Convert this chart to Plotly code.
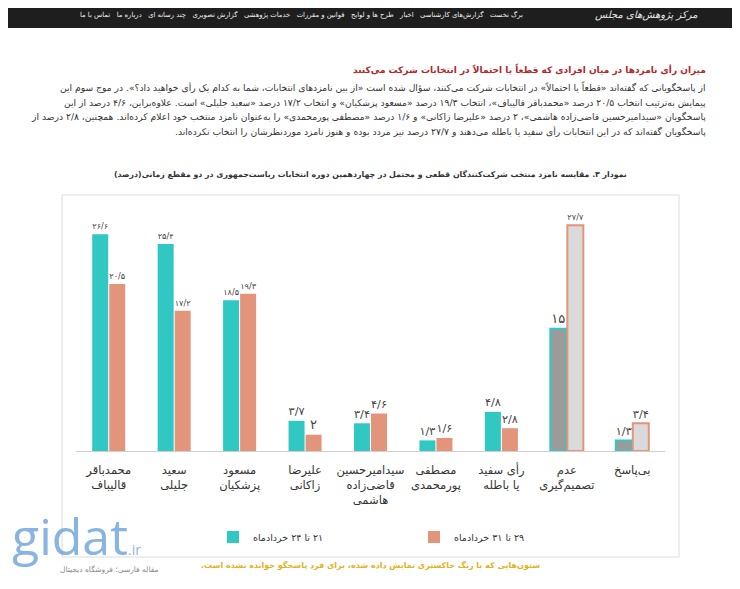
import plotly.graph_objects as go

# the page body adds an 8px margin, so the figure is laid out in shifted coordinates
OX, OY = 8, 8
W, H = 740 - 2 * OX, 589 - 2 * OY

categories = [
    "محمدباقر<br>قالیباف",
    "سعید<br>جلیلی",
    "مسعود<br>پزشکیان",
    "علیرضا<br>زاکانی",
    "سیدامیرحسین<br>قاضی‌زاده<br>هاشمی",
    "مصطفی<br>پورمحمدی",
    "رأی سفید<br>یا باطله",
    "عدم<br>تصمیم‌گیری",
    "بی‌پاسخ",
]
wave_early = [26.6, 25.4, 18.5, 3.7, 3.4, 1.3, 4.8, 15, 1.3]
wave_late = [20.5, 17.2, 19.3, 2, 4.6, 1.6, 2.8, 27.7, 3.4]
series_names = ["۲۱ تا ۲۴ خردادماه", "۲۹ تا ۳۱ خردادماه"]
# last two columns were not read out to respondents -> drawn grey
not_read = [False] * 7 + [True, True]

TEAL = "#31c7c3"
SALMON = "#e3957b"
FONT = "DejaVu Sans"

nav_items = ["برگ نخست", "گزارش‌های کارشناسی", "اخبار", "طرح ها و لوایح", "قوانین و مقررات",
             "خدمات پژوهشی", "گزارش تصویری", "چند رسانه ای", "درباره ما", "تماس با ما"]
heading = "میزان رأی نامزدها در میان افرادی که قطعاً یا احتمالاً در انتخابات شرکت می‌کنند"
paragraph = [
    "از پاسخگویانی که گفته‌اند «قطعاً یا احتمالاً» در انتخابات شرکت می‌کنند، سؤال شده است «از بین نامزدهای انتخابات، شما به کدام یک رأی خواهید داد؟». در موج سوم این",
    "پیمایش به‌ترتیب انتخاب ۲۰/۵ درصد «محمدباقر قالیباف»، انتخاب ۱۹/۳ درصد «مسعود پزشکیان» و انتخاب ۱۷/۲ درصد «سعید جلیلی» است. علاوه‌براین، ۴/۶ درصد از این",
    "پاسخگویان «سیدامیرحسین قاضی‌زاده هاشمی»، ۲ درصد «علیرضا زاکانی» و ۱/۶ درصد «مصطفی پورمحمدی» را به‌عنوان نامزد منتخب خود اعلام کرده‌اند. همچنین، ۲/۸ درصد از",
    "پاسخگویان گفته‌اند که در این انتخابات رأی سفید یا باطله می‌دهند و ۲۷/۷ درصد نیز مردد بوده و هنوز نامزد موردنظرشان را انتخاب نکرده‌اند.",
]
chart_title = "نمودار ۳. مقایسه نامزد منتخب شرکت‌کنندگان قطعی و محتمل در چهاردهمین دوره انتخابات ریاست‌جمهوری در دو مقطع زمانی(درصد)"
footnote = "ستون‌هایی که با رنگ خاکستری نمایش داده شده، برای فرد پاسخگو خوانده نشده است."


def fa(v):
    s = f"{v:g}".replace(".", "/")
    return s.translate(str.maketrans("0123456789", "۰۱۲۳۴۵۶۷۸۹"))


def rtl(s):
    # svg text is ltr by default, embed persian sentences right-to-left
    return "\u202b" + s + "\u202c"


def fx(x):
    return (x - OX) / W


def fy(y):
    return 1 - (y - OY) / H


def note(x, y, text, size, color, anchor="center", family=FONT):
    return dict(xref="paper", yref="paper", x=fx(x), y=fy(y), xanchor=anchor, yanchor="middle",
                text=text, font=dict(family=family, size=size, color=color), showarrow=False)


fig = go.Figure()
for vals, name, col, grey in [(wave_early, series_names[0], TEAL, "#9b9b9b"),
                              (wave_late, series_names[1], SALMON, "#dadada")]:
    fig.add_trace(go.Bar(
        x=categories, y=vals, name=rtl(name),
        marker=dict(color=[grey if g else col for g in not_read],
                    line=dict(color=col, width=[2 if g else 0 for g in not_read])),
        text=[fa(v) for v in vals], textposition="outside",
        textfont=dict(family=FONT, size=13, color="#444"),
        cliponaxis=False,
    ))

shapes = [
    dict(type="rect", xref="paper", yref="paper", x0=fx(0), x1=fx(740), y0=fy(28), y1=fy(0),
         fillcolor="#1e1e1e", line_width=0, layer="below"),
    dict(type="rect", xref="paper", yref="paper", x0=fx(62), x1=fx(679),
         y0=fy(557), y1=fy(195), line=dict(color="#dcdcdc", width=1),
         fillcolor="rgba(0,0,0,0)", layer="below"),
]

ann = [
    note(525, 15, rtl("   ".join(nav_items)), 6.8, "#f2f2f2", "right"),
    note(700, 15, rtl("<i>مرکز پژوهش‌های مجلس</i>"), 10, "#e8e8e8", "right"),
    note(708, 70, rtl("<b>" + heading + "</b>"), 9, "#b3262a", "right"),
]
for i, line in enumerate(paragraph):
    ann.append(note(708, 87 + i * 15, rtl(line), 9.2, "#333", "right"))
ann += [
    note(370, 174, rtl("<b>" + chart_title + "</b>"), 7.8, "#333"),
    note(370, 565, rtl("<b>" + footnote + "</b>"), 8, "#e2b21c"),
    note(10, 536, "gidat<span style='font-size:14px'>.ir</span>", 50, "rgba(95,155,215,0.75)", "left", "Open Sans"),
    note(160, 569, rtl("مقاله فارسی؛ فروشگاه دیجیتال"), 7.5, "#888", "right"),
]

fig.update_layout(
    width=W, height=H, margin=dict(l=0, r=0, t=0, b=0),
    paper_bgcolor="white", plot_bgcolor="white",
    barmode="group", bargap=0.48, bargroupgap=0.06,
    xaxis=dict(domain=[fx(76), fx(665)], showline=True, linecolor="#cfcfcf", linewidth=1,
               showgrid=False, ticks="", tickangle=0, ticklabelstandoff=8,
               tickfont=dict(family=FONT, size=11.5, color="#333")),
    yaxis=dict(domain=[fy(451), fy(206.5)], range=[0, 30], visible=False),
    legend=dict(orientation="h", x=fx(213), xanchor="left", y=fy(537), yanchor="middle",
                entrywidth=156, font=dict(family=FONT, size=9.5, color="#333")),
    shapes=shapes, annotations=ann, showlegend=True,
)

fig.write_html("out.html")
